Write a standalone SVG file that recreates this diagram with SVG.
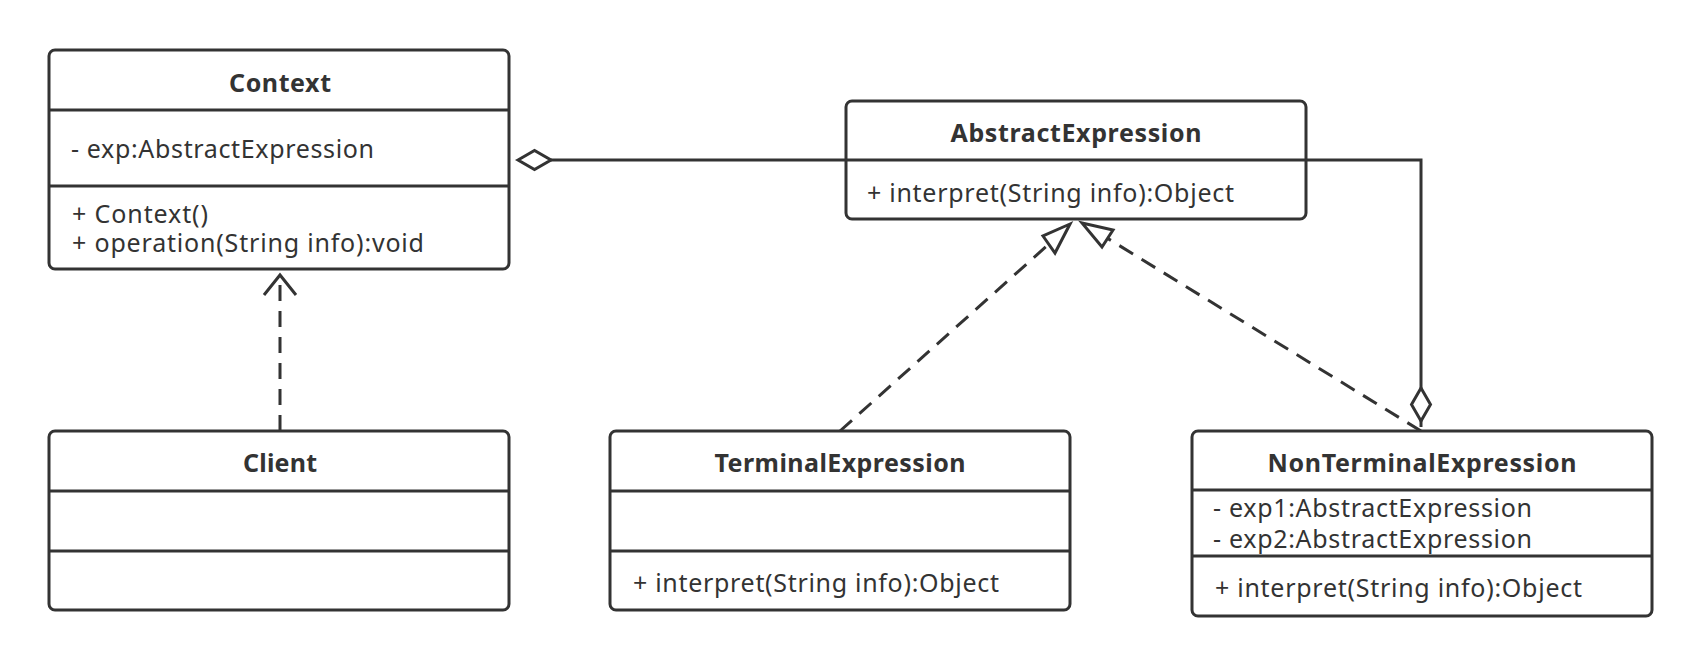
<svg xmlns="http://www.w3.org/2000/svg" width="1702" height="667" viewBox="0 0 1702 667">
<style>
.box{fill:#fff;stroke:#333;stroke-width:3}
.div{stroke:#333;stroke-width:3}
.t{font-family:"Noto Sans","Open Sans",sans-serif;font-size:25px;fill:#333}
.b{font-weight:bold;text-anchor:middle}
.ln{fill:none;stroke:#333;stroke-width:3}
.dash{stroke-dasharray:16 10}
.head{fill:#fff;stroke:#333;stroke-width:3;stroke-linejoin:miter}
</style>
<rect width="1702" height="667" fill="#fff"/>
<g id="connectors">
  <path class="ln" d="M551 160 H1421 V421"/>
  <line class="ln" x1="1421" y1="421" x2="1421" y2="427"/>
  <polygon class="head" points="518,160 534.5,150.5 551,160 534.5,169.5"/>
  <polygon class="head" points="1421,388 1430.5,404.5 1421,421 1411.5,404.5"/>
  <line class="ln dash" x1="280" y1="431" x2="280" y2="276"/>
  <path class="ln" d="M264 295 L280 275 L296 295"/>
  <line class="ln dash" x1="840" y1="431" x2="1049" y2="244"/>
  <polygon class="head" points="1070,224 1043,236 1055,253"/>
  <line class="ln dash" x1="1421" y1="431" x2="1107" y2="238"/>
  <polygon class="head" points="1082,223 1113,230 1102,247"/>
</g>
<g id="Context">
  <rect class="box" x="49" y="50" width="460" height="219" rx="6"/>
  <line class="div" x1="49" y1="110" x2="509" y2="110"/>
  <line class="div" x1="49" y1="186" x2="509" y2="186"/>
  <text class="t b" x="280" y="92" textLength="102">Context</text>
  <text class="t" x="71" y="158" textLength="303">- exp:AbstractExpression</text>
  <text class="t" x="72" y="223" textLength="136">+ Context()</text>
  <text class="t" x="72" y="252" textLength="352">+ operation(String info):void</text>
</g>
<g id="Client">
  <rect class="box" x="49" y="431" width="460" height="179" rx="6"/>
  <line class="div" x1="49" y1="491" x2="509" y2="491"/>
  <line class="div" x1="49" y1="551" x2="509" y2="551"/>
  <text class="t b" x="280" y="472" textLength="74">Client</text>
</g>
<g id="AbstractExpression">
  <rect class="box" x="846" y="101" width="460" height="118" rx="6"/>
  <line class="div" x1="846" y1="160" x2="1306" y2="160"/>
  <text class="t b" x="1076" y="142" textLength="251">AbstractExpression</text>
  <text class="t" x="867" y="202" textLength="367">+ interpret(String info):Object</text>
</g>
<g id="TerminalExpression">
  <rect class="box" x="610" y="431" width="460" height="179" rx="6"/>
  <line class="div" x1="610" y1="491" x2="1070" y2="491"/>
  <line class="div" x1="610" y1="551" x2="1070" y2="551"/>
  <text class="t b" x="840" y="472" textLength="251">TerminalExpression</text>
  <text class="t" x="633" y="592" textLength="366">+ interpret(String info):Object</text>
</g>
<g id="NonTerminalExpression">
  <rect class="box" x="1192" y="431" width="460" height="185" rx="6"/>
  <line class="div" x1="1192" y1="490" x2="1652" y2="490"/>
  <line class="div" x1="1192" y1="556" x2="1652" y2="556"/>
  <text class="t b" x="1422" y="472" textLength="309">NonTerminalExpression</text>
  <text class="t" x="1213" y="517" textLength="319">- exp1:AbstractExpression</text>
  <text class="t" x="1213" y="548" textLength="319">- exp2:AbstractExpression</text>
  <text class="t" x="1215" y="597" textLength="367">+ interpret(String info):Object</text>
</g>
</svg>
